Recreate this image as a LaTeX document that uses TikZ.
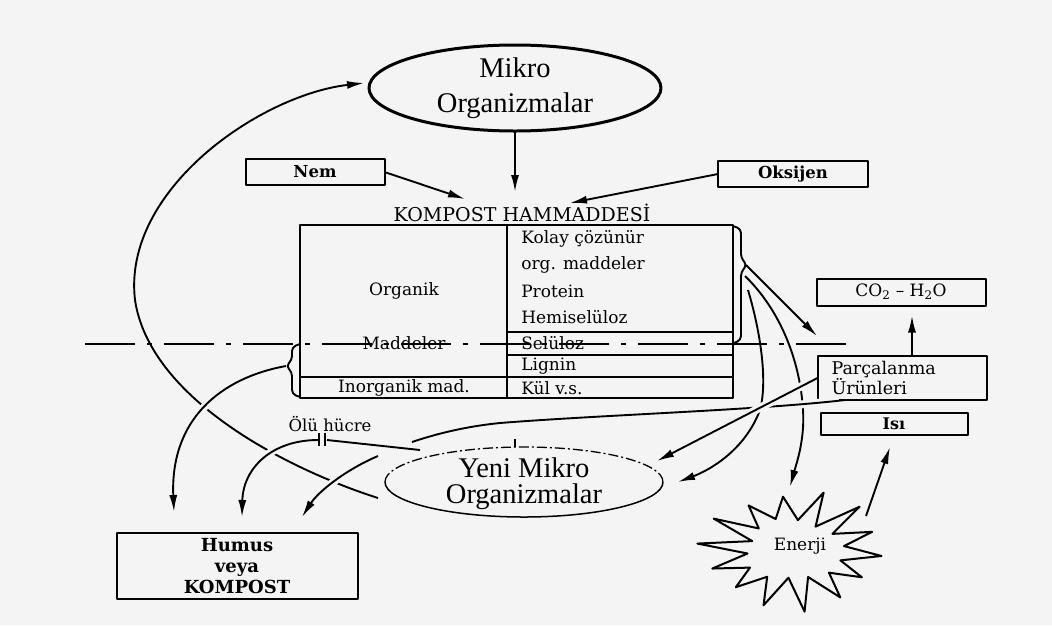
\documentclass[tikz,border=0pt]{standalone}
\usepackage{fontspec}
\setmainfont{DejaVu Serif}
\newfontfamily\tms{Liberation Serif}
\usetikzlibrary{arrows.meta,calc}
\definecolor{bg}{RGB}{244,244,244}
\begin{document}
\begin{tikzpicture}[x=1pt,y=-1pt,
  line width=1.9pt, line join=round,
  arr/.style={-{Latex[length=17pt,width=8pt]}},
  box/.style={draw, rectangle, inner sep=0pt, outer sep=0pt, line width=2pt},
  over/.style={preaction={draw=bg, line width=8pt, shorten <=6pt, shorten >=6pt, arrows=-}},
  t17/.style={font=\fontsize{17}{20}\selectfont},
  big/.style={font=\tms\fontsize{28.5}{35}\selectfont, align=center}]
\fill[bg] (0,0) rectangle (1052,625);
\useasboundingbox (0,0) rectangle (1052,625);

% ---- Mikro Organizmalar
\coordinate (mc) at (515,88);
\draw[line width=3pt] (mc) ellipse[x radius=146, y radius=43];
\node[big] (mikro) at (mc) {Mikro\\Organizmalar};
\coordinate (mkS) at (515,131);
\coordinate (mkW) at (364,83);

% ---- inputs
\node[box, minimum width=139pt, minimum height=26pt, font=\bfseries\fontsize{16.5}{18}\selectfont] (nem) at (315,172) {Nem};
\node[box, minimum width=150pt, minimum height=26pt, font=\bfseries\fontsize{16.5}{18}\selectfont] (oks) at (793,174) {Oksijen};
\node[font=\fontsize{19}{22}\selectfont] (hdr) at (522,213) {KOMPOST HAMMADDESİ};
\coordinate (hdN) at (515,192);
\coordinate (nemT) at (465,199);
\coordinate (oksT) at (570,203);
\draw[arr] (mkS) -- (hdN);
\draw[arr] (nem.east) -- (nemT);
\draw[arr] (oks.west) -- (oksT);

% ---- table
\draw[line width=2pt] (300,225) rectangle (733,398);
\draw[line width=2pt] (507,225) -- (507,398);
\draw (507,332) -- (733,332);
\draw (507,355) -- (733,355);
\draw[line width=2pt] (300,377) -- (733,377);
\node[t17, anchor=west] (r1) at (517,239) {Kolay çözünür};
\node[t17, anchor=west] (r2) at (517,265) {org. maddeler};
\node[t17, anchor=west] (r3) at (517,291) {Protein};
\node[t17, anchor=west] (r4) at (517,317) {Hemiselüloz};
\node[t17, anchor=west] (r5) at (517,343) {Selüloz};
\node[t17, anchor=west] (r6) at (517,366) {Lignin};
\node[t17, anchor=west] (r7) at (517,388) {Kül v.s.};
\node[t17] (l1) at (404,291) {Organik};
\node[t17] (l2) at (404,343) {Maddeler};
\node[t17] (l3) at (404,388) {Inorganik mad.};

% dash-dot separation line
\coordinate (dl1) at (85,344);
\coordinate (dl2) at (853,344);
\draw[line width=1.5pt, dash pattern=on 50pt off 12pt on 5pt off 12pt] (dl1) -- (dl2);

% braces
\draw[rounded corners=4pt] (733,226) -- (741,229) -- (741,258) -- (747,265) -- (741,272) -- (741,340) -- (734,343);
\draw[rounded corners=4pt] (300,344) -- (292,347) -- (292,360) -- (286,366) -- (292,372) -- (292,394) -- (300,397);
\coordinate (bt) at (746,265);
\coordinate (lbt) at (286,366);

% ---- right side boxes
\node[box, minimum width=169pt, minimum height=27pt, t17] (co2) at (901,292) {CO\textsubscript{2} – H\textsubscript{2}O};
\node[box, text width=141pt, inner xsep=14pt, minimum height=44pt, align=left, font=\fontsize{17.5}{20}\selectfont] (parc) at (902,378) {Parçalanma\\Ürünleri};
\node[box, minimum width=147pt, minimum height=22pt, font=\bfseries\fontsize{16}{18}\selectfont] (isi) at (894,424) {Isı};

% ---- Enerji burst
\draw[line width=2pt, fill=bg] plot[samples at={0,...,27}]
  ({793 + 89*(1-0.47*mod(\x,2))*(1+0.09*sin(\x*137))*cos(\x*360/28+6)},
   {550 + 57*(1-0.47*mod(\x,2))*(1+0.09*sin(\x*137))*sin(\x*360/28+6)}) -- cycle;
\node[font=\fontsize{17}{19}\selectfont] (enerji) at (800,546) {Enerji};

% ---- Yeni Mikro Organizmalar
\coordinate (yc) at (524,482);
\draw[line width=1.5pt] ($(yc)+(-139,0)$) arc[start angle=180, end angle=0, x radius=139, y radius=35];
\draw[line width=1.3pt, dash pattern=on 10pt off 3pt on 2pt off 3pt] ($(yc)+(-139,0)$) arc[start angle=180, end angle=360, x radius=139, y radius=35];
\draw[line width=1.3pt] (515,439) -- (515,447);
\node[font=\tms\fontsize{28.5}{26}\selectfont, align=center] (yeni) at (524,484) {Yeni Mikro\\Organizmalar};

% ---- named ends
\coordinate (parcIn) at (817,336);
\coordinate (cb0) at (745,276);
\coordinate (cc0) at (748,290);
\coordinate (enN) at (790,487);
\coordinate (yE) at (678,482);
\coordinate (pb) at (845,400);
\coordinate (pbEnd) at (412,442);
\coordinate (yNE) at (657,461);
\coordinate (eTip) at (866,516);
\coordinate (isiB) at (890,447);
\coordinate (yW) at (378,498);
\coordinate (yNW) at (420,450);
\coordinate (yNW2) at (378,456);
\coordinate (olR) at (327,440);
\coordinate (olL) at (318,440);
\coordinate (hmA) at (174,512);
\coordinate (hmB) at (242,517);
\coordinate (hmC) at (302,517);

% ---- right connectors
\draw[arr] (bt) -- (parcIn);
\draw[arr] (cb0) .. controls (780,310) and (800,360) .. (803,410) .. controls (805,440) and (796,465) .. (enN);
\draw[arr] (cc0) .. controls (760,330) and (768,380) .. (760,410) .. controls (745,450) and (710,470) .. (yE);
\draw[over] (pb) .. controls (760,410) and (600,415) .. (500,423) .. controls (460,427) and (430,436) .. (pbEnd);
\draw[arr, over] (parc.west) -- (yNE);
\draw[arr] ($(parc.north)+(10,0)$) -- ($(co2.south)+(11,10)$);
\draw[arr] (eTip) -- (isiB);

% ---- left connectors
\draw[arr] (yW) .. controls (290,470) and (150,400) .. (135,300) .. controls (122,190) and (260,95) .. (mkW);
\draw[arr, over] (lbt) .. controls (220,378) and (170,420) .. (hmA);
\draw (yNW) -- (olR);
\draw (319,433) -- (319,446);
\draw (325,433) -- (325,446);
\draw[arr, over] (olL) .. controls (272,440) and (243,468) .. (hmB);
\draw[arr, over] (yNW2) .. controls (345,470) and (318,492) .. (hmC);
\node[font=\fontsize{16.5}{18}\selectfont] (olu) at (330,424) {Ölü hücre};

% ---- Humus
\node[box, minimum width=241pt, minimum height=66pt, align=center, font=\bfseries\fontsize{18}{21}\selectfont] (humus) at (237,566) {Humus\\veya\\KOMPOST};
\end{tikzpicture}
\end{document}
